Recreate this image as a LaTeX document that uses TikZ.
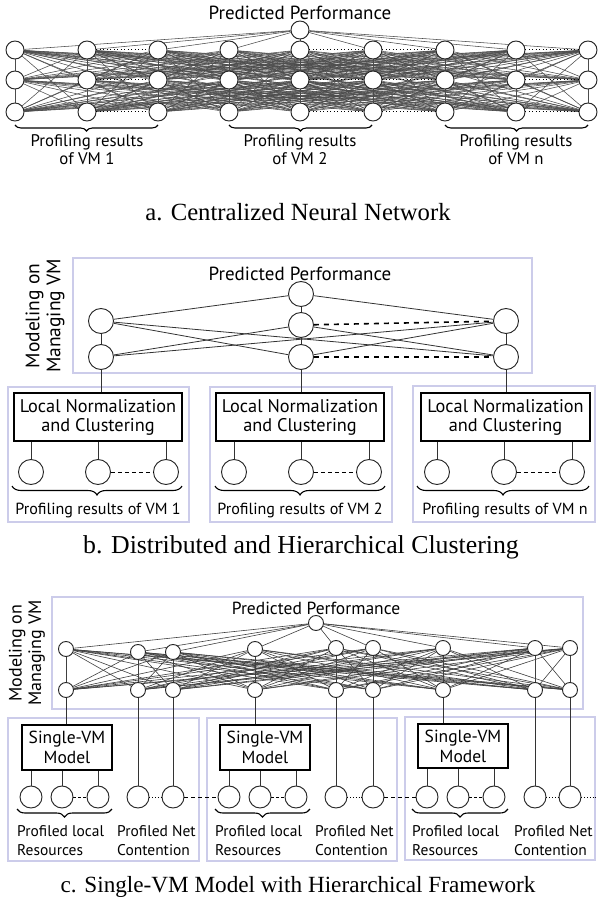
\documentclass[tikz,border=0pt]{standalone}
\usepackage{fontspec}
\setmainfont{Liberation Serif}
\newfontfamily\labelfont{PT Sans}
\usetikzlibrary{decorations.pathreplacing,backgrounds}
\definecolor{lav}{RGB}{204,204,234}
\begin{document}
\begin{tikzpicture}[x=1pt,y=-1pt,
 neuron/.style={circle,draw=black!85,fill=white,line width=0.95pt,inner sep=0pt,minimum size=#1},
 conna/.style={draw=black!70,line width=0.55pt},
 connb/.style={draw=black!80,line width=0.8pt},
 connc/.style={draw=black!75,line width=0.6pt},
 vline/.style={draw=black!80,line width=0.8pt},
 frame/.style={draw=lav,line width=1.2pt},
 modelbox/.style={draw=black,line width=1.5pt,fill=white,inner sep=0pt,align=center},
 curly/.style={decorate,decoration={brace,mirror,amplitude=#1},line width=1.1pt},
 lbl/.style 2 args={inner sep=0pt,font=\labelfont\fontsize{#1}{#2}\selectfont},
 captext/.style={inner sep=0pt,anchor=base,font=\fontsize{#1}{28}\selectfont},
 dotsa/.style={draw=black,line width=1pt,dash pattern=on 1pt off 2.5pt},
 dashb/.style={draw=black,line width=1.6pt,dash pattern=on 5pt off 5pt},
 dashsmall/.style={draw=black,line width=0.9pt,dash pattern=on 4pt off 3pt},
 dashtiny/.style={draw=black,line width=0.9pt,dash pattern=on 3pt off 2pt},
 dotc/.style={draw=black,line width=0.9pt,dash pattern=on 1pt off 1.8pt},
]
\useasboundingbox (0,0) rectangle (597,904);

%%%%%%%%%%%%%%%% Part a
\foreach \x [count=\i] in {15,87,158,229,300,373,445,516,588} {
  \foreach \y [count=\j] in {50,80,112} {
    \node[neuron=18pt] (a-\i-\j) at (\x,\y) {};
  }
}
\node[neuron=18pt] (aT) at (300,30) {};
\node[lbl={19}{22},anchor=base] (atitle) at (300,20) {Predicted Performance};
\begin{pgfonlayer}{background}
\foreach \i in {1,...,8} {
  \pgfmathtruncatemacro\ni{\i+1}
  \foreach \k in {\ni,...,9} {
    \foreach \j/\l in {1/2,1/3,2/1,2/3,3/1,3/2} {
      \draw[conna] (a-\i-\j) -- (a-\k-\l);
    }
  }
}
\foreach \i in {1,...,9} {
  \draw[conna] (aT) -- (a-\i-1);
  \draw[conna] (a-\i-1) -- (a-\i-2) -- (a-\i-3);
}
\end{pgfonlayer}
\foreach \i/\k in {2/3,5/6,6/7,8/9} {
  \foreach \j in {1,2,3} { \draw[dotsa] (a-\i-\j) -- (a-\k-\j); }
}
\draw[curly=6pt] (15,125) -- (158,125);
\draw[curly=6pt] (229,125) -- (372,125);
\draw[curly=6pt] (445,125) -- (588,125);
\node[lbl={16.8}{18},align=center] (ap1) at (87,150) {Profiling results\\of VM 1};
\node[lbl={16.8}{18},align=center] (ap2) at (300,150) {Profiling results\\of VM 2};
\node[lbl={16.8}{18},align=center] (ap3) at (516,150) {Profiling results\\of VM n};
\node[captext=24.7] (capa) at (298,220) {a. Centralized Neural Network};

%%%%%%%%%%%%%%%% Part b
\draw[frame] (73,258) rectangle (532,373);
\node[lbl={19.5}{21},rotate=90,align=center] (bside) at (45,316) {Modeling on\\Managing VM};
\node[lbl={19}{22},anchor=base] (btitle) at (300,280) {Predicted Performance};
\node[neuron=25pt] (bT) at (301,294) {};
\node[neuron=25pt] (bM1) at (301,325) {};
\node[neuron=25pt] (bM2) at (301,357) {};
\node[neuron=25pt] (bL1) at (101,321) {};
\node[neuron=25pt] (bL2) at (101,357) {};
\node[neuron=25pt] (bR1) at (506,321) {};
\node[neuron=25pt] (bR2) at (506,357) {};
\begin{pgfonlayer}{background}
\draw[connb] (bT) -- (bL1);
\draw[connb] (bT) -- (bR1);
\draw[connb] (bT) -- (bM1);
\draw[connb] (bL1) -- (bL2);
\draw[connb] (bM1) -- (bM2);
\draw[connb] (bR1) -- (bR2);
\draw[connb] (bL1) -- (bM2);
\draw[connb] (bL2) -- (bM1);
\draw[connb] (bL1) -- (bR2);
\draw[connb] (bL2) -- (bR1);
\draw[connb] (bM1) -- (bR2);
\draw[connb] (bM2) -- (bR1);
\end{pgfonlayer}
\draw[dashb] (bM1) -- (bR1);
\draw[dashb] (bM2) -- (bR2);

\draw[frame] (8,387) rectangle (189,522);
\draw[frame] (210,387) rectangle (392,522);
\draw[frame] (413,386) rectangle (595,522);
\node[modelbox,lbl={18.3}{19},minimum width=168pt,minimum height=48pt] (ln1) at (98,417) {Local Normalization\\and Clustering};
\node[modelbox,lbl={18.3}{19},minimum width=168pt,minimum height=48pt] (ln2) at (300,417) {Local Normalization\\and Clustering};
\node[modelbox,lbl={18.3}{19},minimum width=169pt,minimum height=48pt] (ln3) at (505.5,417) {Local Normalization\\and Clustering};
\draw[connb] (bL2.south) -- (bL2.south |- ln1.north);
\draw[connb] (bM2.south) -- (bM2.south |- ln2.north);
\draw[connb] (bR2.south) -- (bR2.south |- ln3.north);
\foreach \g/\o in {1/0,2/203,3/406} {
  \foreach \x [count=\m] in {31,98,166} {
    \node[neuron=25pt] (bc-\g-\m) at (\x+\o,472) {};
    \draw[connb] (bc-\g-\m.north) -- (bc-\g-\m.north |- ln\g.south);
  }
  \draw[dashsmall] (bc-\g-2) -- (bc-\g-3);
}
\draw[curly=9pt] (12,486) -- (182,486);
\draw[curly=9pt] (215,486) -- (385,486);
\draw[curly=9pt] (417,486) -- (589,486);
\node[lbl={16.1}{20},anchor=base] (bp1) at (98,514) {Profiling results of VM 1};
\node[lbl={16.1}{20},anchor=base] (bp2) at (300,514) {Profiling results of VM 2};
\node[lbl={16.1}{20},anchor=base] (bp3) at (505,514) {Profiling results of VM n};
\node[captext=25.8] (capb) at (301,553) {b. Distributed and Hierarchical Clustering};

%%%%%%%%%%%%%%%% Part c
\draw[frame] (52,597) rectangle (583,709);
\node[lbl={18}{19.5},rotate=90,align=center] (cside) at (27,653) {Modeling on\\Managing VM};
\node[lbl={17.5}{20},anchor=base] (ctitle) at (316,614) {Predicted Performance};
\node[neuron=15pt] (cT) at (316,623) {};
\foreach \x/\y [count=\i] in {66/649,138/652,173/652,255/649,336/648,373/648,443/648,535/648,570/648} {
  \node[neuron=15pt] (cu-\i) at (\x,\y) {};
  \node[neuron=15pt] (cd-\i) at (\x,690) {};
}
\begin{pgfonlayer}{background}
\foreach \i in {1,...,9} {
  \draw[connc] (cT) -- (cu-\i);
  \foreach \k in {1,...,9} { \draw[connc] (cu-\i) -- (cd-\k); }
}
\end{pgfonlayer}
\draw[frame] (8,718) rectangle (199,861);
\draw[frame] (207,718) rectangle (397,861);
\draw[frame] (405,717) rectangle (595,860);
\node[modelbox,lbl={17.5}{20},minimum width=90pt,minimum height=45pt] (svm1) at (67,747.5) {Single-VM\\Model};
\node[modelbox,lbl={17.5}{20},minimum width=90pt,minimum height=45pt] (svm2) at (265,747.5) {Single-VM\\Model};
\node[modelbox,lbl={17.5}{20},minimum width=90pt,minimum height=44pt] (svm3) at (463,746) {Single-VM\\Model};
\draw[vline] (cd-1.south) -- (cd-1.south |- svm1.north);
\draw[vline] (cd-4.south) -- (cd-4.south |- svm2.north);
\draw[vline] (cd-7.south) -- (cd-7.south |- svm3.north);
\foreach \g/\o/\na/\nb in {1/0/2/3,2/198/5/6,3/396/8/9} {
  \foreach \x [count=\m] in {31,62,98} {
    \node[neuron=22pt] (cl-\g-\m) at (\x+\o,797) {};
    \draw[vline] (cl-\g-\m.north) -- (cl-\g-\m.north |- svm\g.south);
  }
  \node[neuron=22pt] (cn-\g-1) at (cd-\na |- 0,797) {};
  \node[neuron=22pt] (cn-\g-2) at (cd-\nb |- 0,797) {};
  \draw[vline] (cd-\na.south) -- (cn-\g-1.north);
  \draw[vline] (cd-\nb.south) -- (cn-\g-2.north);
  \draw[dashtiny] (cl-\g-2) -- (cl-\g-3);
  \draw[dotc] (cn-\g-1) -- (cn-\g-2);
}
\draw[dashsmall] (cn-1-2) -- (cl-2-1);
\draw[dashsmall] (cn-2-2) -- (cl-3-1);
\coordinate (cend) at (597,797);
\draw[dotc] (cn-3-2) -- (cend);
\draw[curly=8pt] (17,809) -- (112,809);
\draw[curly=8pt] (215,809) -- (310,809);
\draw[curly=8pt] (412,809) -- (508,809);
\foreach \g/\xl/\xn in {1/17/117,2/215/315,3/412/514} {
  \node[lbl={15.5}{19},align=left,anchor=west] (cpl-\g) at (\xl,841) {Profiled local\\Resources};
  \node[lbl={15.5}{19},align=left,anchor=west] (cpn-\g) at (\xn,841) {Profiled Net\\Contention};
}
\node[captext=23.2] (capc) at (298,892) {c. Single-VM Model with Hierarchical Framework};
\end{tikzpicture}
\end{document}
